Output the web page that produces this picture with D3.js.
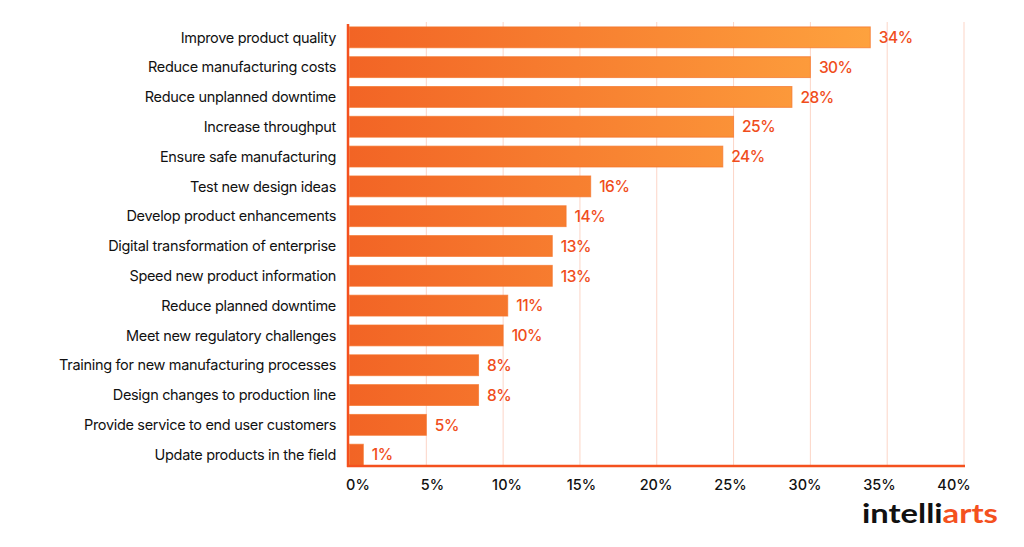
<!DOCTYPE html>
<html>
<head>
<meta charset="utf-8">
<script src="https://cdn.jsdelivr.net/npm/d3@7"></script>
<style>
  html, body { margin: 0; padding: 0; background: #ffffff; }
  svg { display: block; }
</style>
</head>
<body>
<script>
// ---- Data ----
const categories = [
  "Improve product quality",
  "Reduce manufacturing costs",
  "Reduce unplanned downtime",
  "Increase throughput",
  "Ensure safe manufacturing",
  "Test new design ideas",
  "Develop product enhancements",
  "Digital transformation of enterprise",
  "Speed new product information",
  "Reduce planned downtime",
  "Meet new regulatory challenges",
  "Training for new manufacturing processes",
  "Design changes to production line",
  "Provide service to end user customers",
  "Update products in the field"
];
const values = [33.9, 30.0, 28.8, 25.0, 24.3, 15.7, 14.1, 13.2, 13.2, 10.3, 10.0, 8.4, 8.4, 5.0, 0.9];
const valueLabels = ["34%", "30%", "28%", "25%", "24%", "16%", "14%", "13%", "13%", "11%", "10%", "8%", "8%", "5%", "1%"];
const tickValues = [0, 5, 10, 15, 20, 25, 30, 35, 40];
const tickLabels = ["0%", "5%", "10%", "15%", "20%", "25%", "30%", "35%", "40%"];

// ---- Layout ----
const W = 1024, H = 547;
const svg = d3.select("body").append("svg").attr("width", W).attr("height", H);

const x = d3.scaleLinear().domain([0, 40]).range([349.5, 964]);
const xLabel = d3.scaleLinear().domain([0, 40]).range([358, 954]);
const y = d3.scaleBand().domain(categories).range([26, 466]).paddingInner(0.3).paddingOuter(0.03);

const defs = svg.append("defs");
const grad = defs.append("linearGradient")
  .attr("id", "barGrad").attr("gradientUnits", "userSpaceOnUse")
  .attr("x1", x(0)).attr("x2", x(35)).attr("y1", 0).attr("y2", 0);
grad.append("stop").attr("offset", "0%").attr("stop-color", "#f26425");
grad.append("stop").attr("offset", "100%").attr("stop-color", "#fea43f");

const font = "Inter, 'Noto Sans', sans-serif";

// gridlines
svg.append("g").selectAll("line").data(tickValues.slice(1)).join("line")
  .attr("x1", d => x(d)).attr("x2", d => x(d))
  .attr("y1", 22).attr("y2", 466)
  .attr("stroke", "#fcd5c7").attr("stroke-width", 1);

// bars
svg.append("g").selectAll("rect").data(values).join("rect")
  .attr("x", x(0))
  .attr("y", (d, i) => y(categories[i]))
  .attr("width", d => x(d) - x(0))
  .attr("height", y.bandwidth())
  .attr("fill", "url(#barGrad)")
  .attr("stroke", "#f5732a").attr("stroke-opacity", 0.7).attr("stroke-width", 1);

// value labels
svg.append("g").selectAll("text").data(values).join("text")
  .attr("x", d => x(d) + 8.5)
  .attr("y", (d, i) => y(categories[i]) + y.bandwidth() / 2)
  .attr("dy", "0.37em")
  .attr("font-family", font).attr("font-size", 15.5).attr("font-weight", 500)
  .attr("letter-spacing", -0.5)
  .attr("fill", "#f04d1b")
  .text((d, i) => valueLabels[i]);

// category labels
svg.append("g").selectAll("text").data(categories).join("text")
  .attr("x", 336)
  .attr("y", d => y(d) + y.bandwidth() / 2)
  .attr("dy", "0.36em")
  .attr("text-anchor", "end")
  .attr("font-family", font).attr("font-size", 14.5).attr("font-weight", 400)
  .attr("letter-spacing", -0.32)
  .attr("fill", "#111111")
  .text(d => d);

// axes lines
svg.append("line").attr("x1", 348).attr("x2", 348).attr("y1", 24).attr("y2", 467)
  .attr("stroke", "#f4511e").attr("stroke-width", 2.5);
svg.append("line").attr("x1", 347).attr("x2", 965).attr("y1", 466).attr("y2", 466)
  .attr("stroke", "#f4511e").attr("stroke-width", 2.5);

// tick labels
svg.append("g").selectAll("text").data(tickValues).join("text")
  .attr("x", d => xLabel(d))
  .attr("y", 490)
  .attr("text-anchor", "middle")
  .attr("font-family", font).attr("font-size", 14.5).attr("font-weight", 500)
  .attr("fill", "#111111")
  .text((d, i) => tickLabels[i]);

// logo
const logo = svg.append("text")
  .attr("x", 862).attr("y", 523)
  .attr("font-family", "Lato, Inter, sans-serif").attr("font-size", 27).attr("font-weight", 700)
  .attr("textLength", 136).attr("lengthAdjust", "spacingAndGlyphs");
logo.append("tspan").attr("fill", "#111111").text("intelli");
logo.append("tspan").attr("fill", "#f4511e").text("arts");
</script>
</body>
</html>
